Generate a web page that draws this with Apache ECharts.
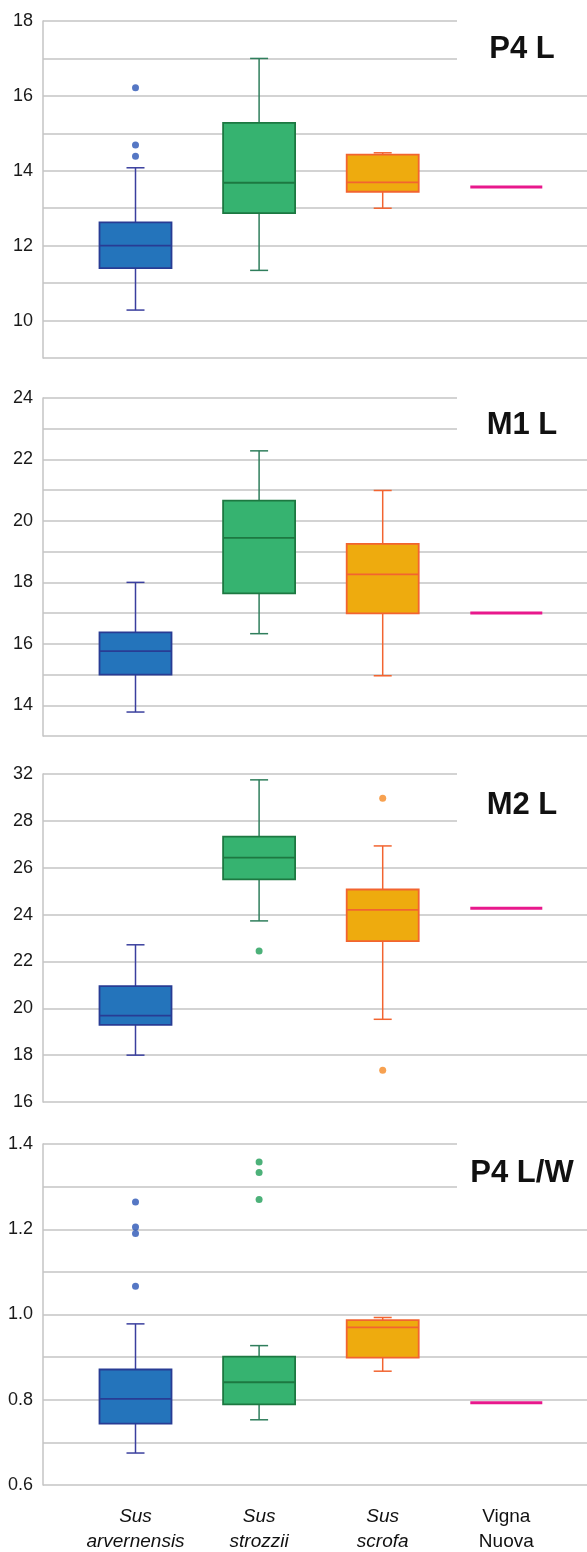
<!DOCTYPE html>
<html><head><meta charset="utf-8">
<script src="https://cdn.jsdelivr.net/npm/echarts@6/dist/echarts.min.js"></script>
<style>html,body{margin:0;padding:0;background:#fff}#chart{width:587px;height:1552px}</style>
</head><body><div id="chart"></div>
<script>
// ---------- DATA ----------
const categories = ['Sus arvernensis', 'Sus strozzii', 'Sus scrofa', 'Vigna Nuova'];
const italicCats = [true, true, true, false];

// P4 L : [min, Q1, median, Q3, max] for the three species
const p4lBoxes = [[10.28, 11.40, 12.00, 12.62, 14.08], [11.34, 12.87, 13.68, 15.28, 17.00], [13.00, 13.44, 13.69, 14.43, 14.48]];
const p4lOutliers = [[0, 16.22], [0, 14.69], [0, 14.39]];
const p4lVigna = 13.57;
const p4lTickValues = [10, 12, 14, 16, 18];
const p4lTickLabels = ['10', '12', '14', '16', '18'];

// M1 L
const m1lBoxes = [[13.78, 15.00, 15.76, 16.37, 18.00], [16.33, 17.64, 19.45, 20.66, 22.28], [14.96, 16.99, 18.26, 19.25, 20.99]];
const m1lOutliers = [];
const m1lVigna = 17.0;
const m1lTickValues = [14, 16, 18, 20, 22, 24];
const m1lTickLabels = ['14', '16', '18', '20', '22', '24'];

// M2 L
const m2lBoxes = [[18.00, 19.29, 19.69, 20.95, 22.71], [23.73, 25.50, 26.43, 27.33, 29.75], [19.53, 22.87, 24.20, 25.07, 26.93]];
const m2lOutliers = [[1, 22.44], [2, 28.96], [2, 17.36]];
const m2lVigna = 24.27;
const m2lTickValues = [16, 18, 20, 22, 24, 26, 28, 30];
const m2lTickLabels = ['16', '18', '20', '22', '24', '26', '28', '32'];

// P4 L/W
const p4lwBoxes = [[0.675, 0.744, 0.802, 0.871, 0.978], [0.753, 0.789, 0.841, 0.901, 0.927], [0.867, 0.899, 0.970, 0.987, 0.993]];
const p4lwOutliers = [[0, 1.264], [0, 1.205], [0, 1.190], [0, 1.066], [1, 1.358], [1, 1.333], [1, 1.270]];
const p4lwVigna = 0.793;
const p4lwTickValues = [0.6, 0.8, 1.0, 1.2, 1.4];
const p4lwTickLabels = ['0.6', '0.8', '1.0', '1.2', '1.4'];

// ---------- STYLE / LAYOUT ----------
const FONT = 'Liberation Sans, Arial, Helvetica, sans-serif';
const styles = [
  { fill: '#2474BB', border: '#283C94', whisker: '#3A3F9E', outlier: '#2B55B5' },
  { fill: '#36B370', border: '#1D7841', whisker: '#2F7E5C', outlier: '#1F9E58' },
  { fill: '#EEAB0E', border: '#F26430', whisker: '#F26430', outlier: '#F58A24' },
  { fill: '#E8188C', border: '#E8188C', whisker: '#E8188C', outlier: '#E8188C' }
];
const BOX_FRAC = 72 / 123.6;
const CAP_FRAC = 18 / 123.6;
const GRID_COLOR = '#c4c4c4';

const panels = [
  { title: 'P4 L', boxes: p4lBoxes, outliers: p4lOutliers, vigna: p4lVigna, tv: p4lTickValues, tl: p4lTickLabels,
    min: 9, max: 18, interval: 1, top: 21, height: 337, titleY: 49, rectY: 12, rectH: 66 },
  { title: 'M1 L', boxes: m1lBoxes, outliers: m1lOutliers, vigna: m1lVigna, tv: m1lTickValues, tl: m1lTickLabels,
    min: 13, max: 24, interval: 1, top: 398, height: 338, titleY: 425, rectY: 389, rectH: 62 },
  { title: 'M2 L', boxes: m2lBoxes, outliers: m2lOutliers, vigna: m2lVigna, tv: m2lTickValues, tl: m2lTickLabels,
    min: 16, max: 30, interval: 2, top: 774, height: 328, titleY: 805, rectY: 765, rectH: 86 },
  { title: 'P4 L/W', boxes: p4lwBoxes, outliers: p4lwOutliers, vigna: p4lwVigna, tv: p4lwTickValues, tl: p4lwTickLabels,
    min: 0.6, max: 1.4, interval: 0.1, top: 1144, height: 341, titleY: 1173, rectY: 1135, rectH: 76 }
];

function renderBox(params, api) {
  const ci = api.value(0);
  const st = styles[ci];
  const band = api.size([1, 0])[0];
  const bw = band * BOX_FRAC, cw = band * CAP_FRAC;
  const p = k => api.coord([ci, api.value(k)]);
  const x = p(3)[0];
  const yMin = p(1)[1], yQ1 = p(2)[1], yMed = p(3)[1], yQ3 = p(4)[1], yMax = p(5)[1];
  const ws = { stroke: st.whisker, lineWidth: 1.5 };
  return { type: 'group', children: [
    { type: 'line', shape: { x1: x, y1: yQ3, x2: x, y2: yMax }, style: ws },
    { type: 'line', shape: { x1: x, y1: yQ1, x2: x, y2: yMin }, style: ws },
    { type: 'line', shape: { x1: x - cw / 2, y1: yMax, x2: x + cw / 2, y2: yMax }, style: ws },
    { type: 'line', shape: { x1: x - cw / 2, y1: yMin, x2: x + cw / 2, y2: yMin }, style: ws },
    { type: 'rect', shape: { x: x - bw / 2, y: yQ3, width: bw, height: yQ1 - yQ3 },
      style: { fill: st.fill, stroke: st.border, lineWidth: 1.8 } },
    { type: 'line', shape: { x1: x - bw / 2, y1: yMed, x2: x + bw / 2, y2: yMed },
      style: { stroke: st.border, lineWidth: 1.8 } }
  ] };
}
function renderVigna(params, api) {
  const ci = api.value(0);
  const band = api.size([1, 0])[0];
  const bw = band * BOX_FRAC;
  const c = api.coord([ci, api.value(1)]);
  return { type: 'line', shape: { x1: c[0] - bw / 2, y1: c[1], x2: c[0] + bw / 2, y2: c[1] },
    style: { stroke: styles[3].border, lineWidth: 3 } };
}

const grid = [], xAxis = [], yAxis = [], series = [], graphic = [];
panels.forEach((pn, pi) => {
  const a = pi * 2, b = pi * 2 + 1;
  grid.push({ left: 43, right: 0, top: pn.top, height: pn.height });
  grid.push({ left: 73.7, width: 494.4, top: pn.top, height: pn.height });
  xAxis.push({ gridIndex: a, type: 'value', min: 0, max: 1, show: false });
  const isLast = pi === panels.length - 1;
  xAxis.push({ gridIndex: b, type: 'category', data: categories, boundaryGap: true,
    axisLine: { show: false }, axisTick: { show: false }, splitLine: { show: false },
    axisLabel: { show: isLast, interval: 0, margin: 19,
      formatter: (val, idx) => val.split(' ').map(w => (italicCats[idx] ? '{i|' : '{n|') + w + '}').join('\n'),
      rich: {
        i: { fontStyle: 'italic', fontSize: 19, lineHeight: 25, color: '#111', fontFamily: FONT },
        n: { fontSize: 19, lineHeight: 25, color: '#111', fontFamily: FONT }
      } } });
  yAxis.push({ gridIndex: a, type: 'value', min: pn.min, max: pn.max, interval: pn.interval,
    axisLine: { show: true, lineStyle: { color: GRID_COLOR, width: 1.5 } },
    axisTick: { show: false },
    splitLine: { show: true, lineStyle: { color: GRID_COLOR, width: 1.5 } },
    axisLabel: { margin: 10, fontSize: 18, color: '#1a1a1a', fontFamily: FONT,
      formatter: v => { const k = pn.tv.findIndex(t => Math.abs(t - v) < 1e-6); return k < 0 ? '' : pn.tl[k]; } } });
  yAxis.push({ gridIndex: b, type: 'value', min: pn.min, max: pn.max, show: false });

  series.push({ type: 'custom', xAxisIndex: b, yAxisIndex: b, renderItem: renderBox,
    encode: { x: 0, y: [1, 2, 3, 4, 5] }, clip: false,
    data: pn.boxes.map((bx, i) => [i].concat(bx)) });
  series.push({ type: 'custom', xAxisIndex: b, yAxisIndex: b, renderItem: renderVigna,
    encode: { x: 0, y: 1 }, data: [[3, pn.vigna]] });
  series.push({ type: 'scatter', xAxisIndex: b, yAxisIndex: b, symbolSize: 7, z: 3,
    data: pn.outliers.map(o => ({ value: o, itemStyle: { color: styles[o[0]].outlier } })) });

  graphic.push({ type: 'rect', z: 100, shape: { x: 457, y: pn.rectY, width: 130, height: pn.rectH }, style: { fill: '#fff' } });
  graphic.push({ type: 'text', z: 101, x: 522, y: pn.titleY,
    style: { text: pn.title, font: 'bold 31px ' + FONT, fill: '#111', align: 'center', verticalAlign: 'middle' } });
});

const chart = echarts.init(document.getElementById('chart'), null, { renderer: 'canvas' });
chart.setOption({ animation: false, backgroundColor: '#fff', grid, xAxis, yAxis, series, graphic });
</script></body></html>
